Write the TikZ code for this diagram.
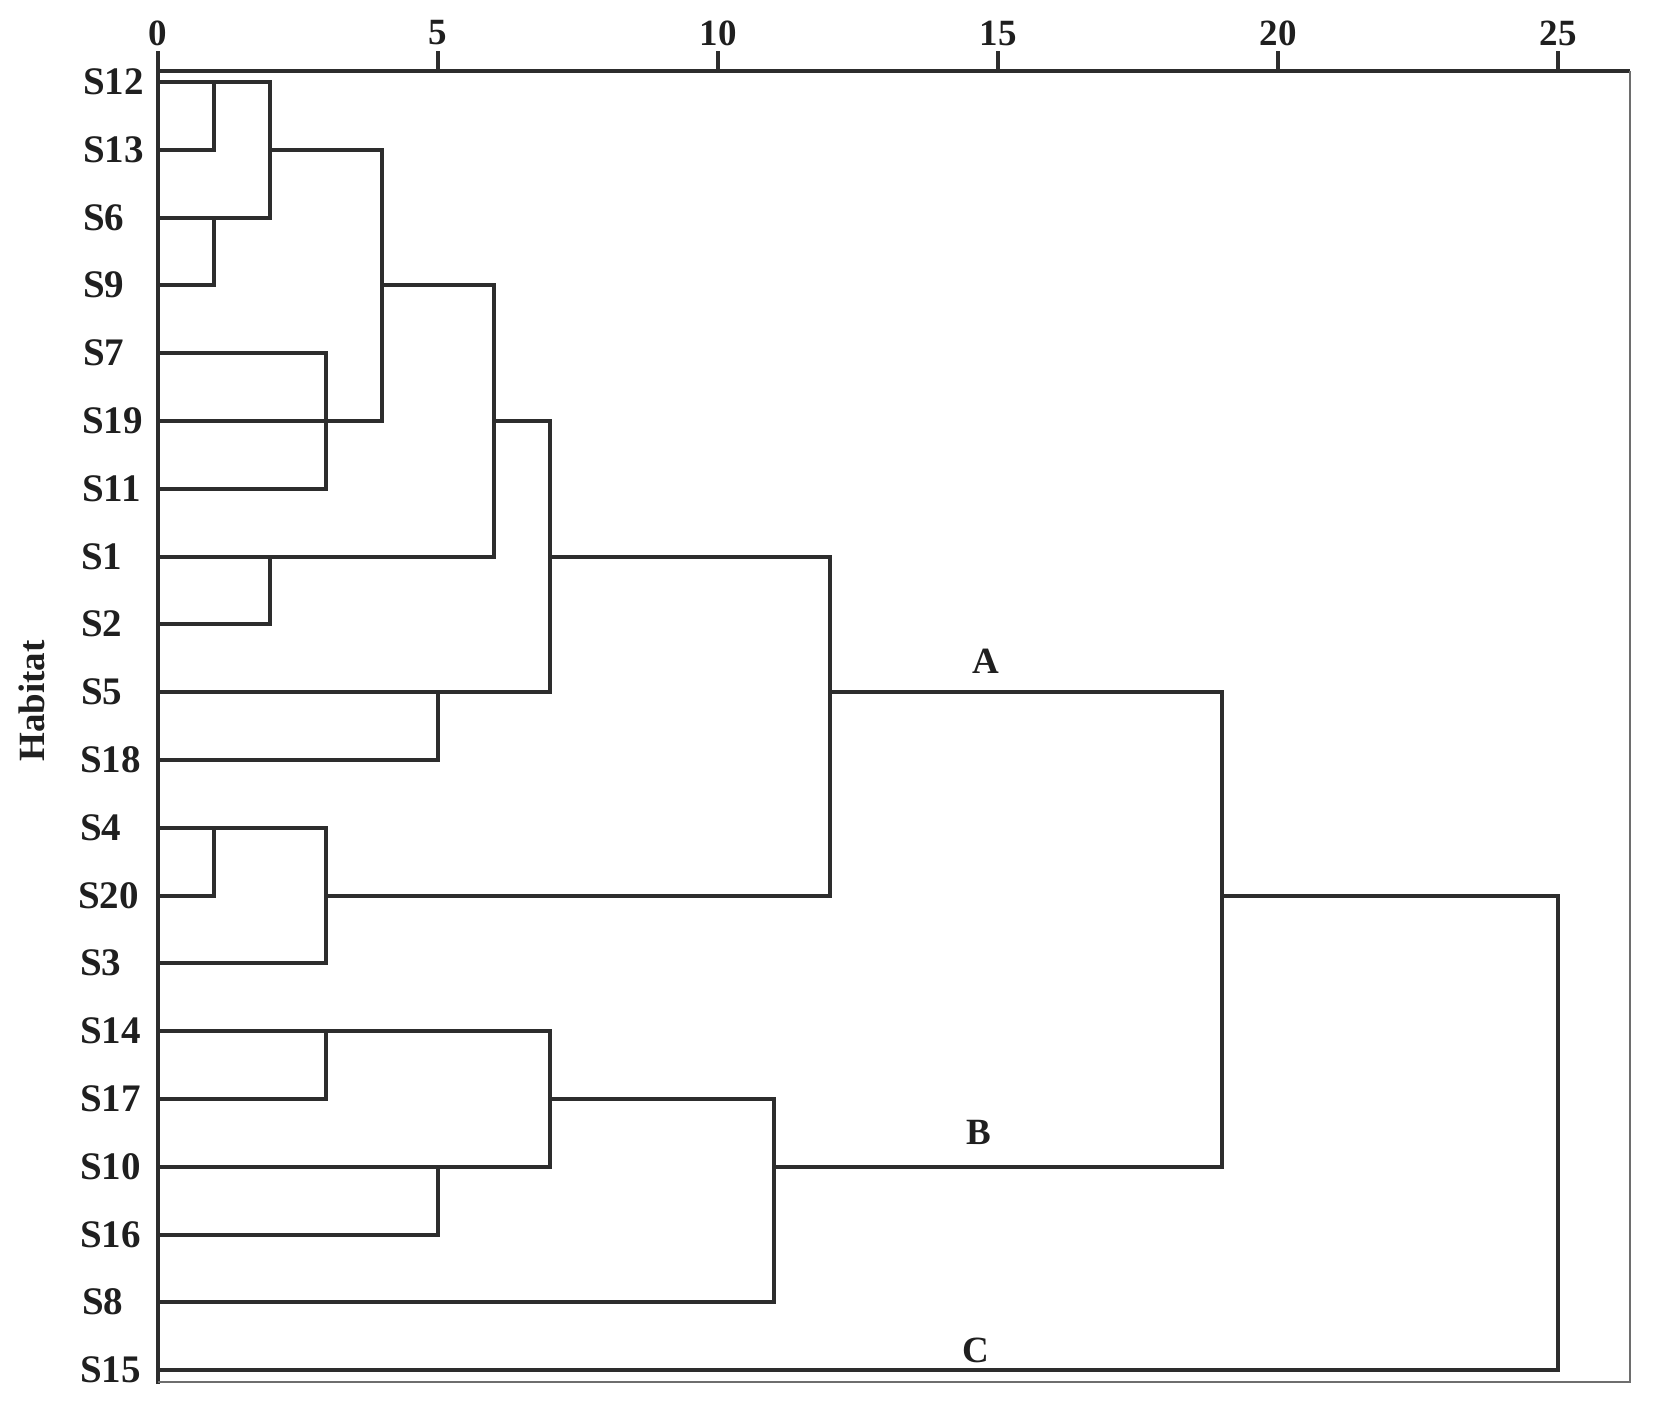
\documentclass[tikz,border=0pt]{standalone}
\usepackage{fontspec}
\setmainfont{Liberation Serif}
\definecolor{lnkgray}{RGB}{45,45,45}
\definecolor{frmgray}{RGB}{110,110,110}
\tikzset{every picture/.style={line width=1.5pt}}
\tikzset{lbl/.style={inner sep=0.75pt,font=\fontsize{18.5}{20}\selectfont\bfseries,text=black!88}}
\tikzset{leaf/.style={lbl,anchor=west,font=\fontsize{19.5}{21}\selectfont\bfseries}}
\tikzset{lnk/.style={draw=lnkgray,line width=1.8pt}}

\begin{document}
\begin{tikzpicture}[x=0.5pt,y=0.5pt,yscale=-1,xscale=1]
		\useasboundingbox (0,0) rectangle (1654,1404);
		
		%Axis frame
		\coordinate (o) at (158,71);
		\coordinate (tr) at (1630,71);
		\coordinate (br) at (1630,1382);
		\coordinate (bl) at (158,1382);
		\draw [lnk] (o) -- (tr) ;
		\draw [lnk] (o) -- ++(0,-20) ;
		\draw [lnk] (o) -- (158,1384) ;
		\draw [draw=frmgray,line width=1pt] (tr) -- (br) -- (bl) ;
		\foreach \t in {5,10,15,20,25}
			\draw [lnk] (158+56*\t,71) -- ++(0,-20) ;
		
		%Scale labels
		\draw (158,33) node (n0) [lbl] {0};
		\draw (438,33) node (n5) [lbl] {5};
		\draw (718,33) node (n10) [lbl] {10};
		\draw (998,33) node (n15) [lbl] {15};
		\draw (1278,33) node (n20) [lbl] {20};
		\draw (1558,33) node (n25) [lbl] {25};
		\draw (32,701) node (hab) [lbl,rotate=90] {Habitat};
		
		%Habitats
		\draw (80,82) node (s12) [leaf] {S12};
		\draw (80,150) node (s13) [leaf] {S13};
		\draw (80,218) node (s6) [leaf] {S6};
		\draw (80,285) node (s9) [leaf] {S9};
		\draw (80,353) node (s7) [leaf] {S7};
		\draw (79,421) node (s19) [leaf] {S19};
		\draw (79,489) node (s11) [leaf] {S11};
		\draw (78,557) node (s1) [leaf] {S1};
		\draw (78,624) node (s2) [leaf] {S2};
		\draw (78,692) node (s5) [leaf] {S5};
		\draw (77,760) node (s18) [leaf] {S18};
		\draw (77,828) node (s4) [leaf] {S4};
		\draw (75,896) node (s20) [leaf] {S20};
		\draw (77,963) node (s3) [leaf] {S3};
		\draw (77,1031) node (s14) [leaf] {S14};
		\draw (77,1099) node (s17) [leaf] {S17};
		\draw (77,1167) node (s10) [leaf] {S10};
		\draw (77,1235) node (s16) [leaf] {S16};
		\draw (79,1302) node (s8) [leaf] {S8};
		\draw (77,1370) node (s15) [leaf] {S15};
		
		%Merge points
		\coordinate (m1a) at (214,82);
		\coordinate (m1b) at (214,218);
		\coordinate (m2a) at (270,150);
		\coordinate (m3a) at (326,421);
		\coordinate (m4) at (382,285);
		\coordinate (m2b) at (270,557);
		\coordinate (m6) at (494,421);
		\coordinate (m5a) at (438,692);
		\coordinate (m7a) at (550,557);
		\coordinate (m1c) at (214,828);
		\coordinate (m3b) at (326,896);
		\coordinate (m12) at (830,692);
		\coordinate (m3c) at (326,1031);
		\coordinate (m5b) at (438,1167);
		\coordinate (m7b) at (550,1099);
		\coordinate (m11) at (774,1167);
		\coordinate (m19) at (1222,896);
		\coordinate (m25) at (1558,896);
		
		%Dendrogram
		\draw [lnk] (s12 -| o) -| (m1a) |- (s13 -| o) ;
		\draw [lnk] (s6 -| o) -| (m1b) |- (s9 -| o) ;
		\draw [lnk] (m1a) -| (m2a) |- (m1b) ;
		\draw [lnk] (s7 -| o) -| (m3a) |- (s11 -| o) ;
		\draw [lnk] (s19 -| o) -- (m3a) ;
		\draw [lnk] (m2a) -| (m4) |- (m3a) ;
		\draw [lnk] (s1 -| o) -| (m2b) |- (s2 -| o) ;
		\draw [lnk] (m4) -| (m6) |- (m2b) ;
		\draw [lnk] (s5 -| o) -| (m5a) |- (s18 -| o) ;
		\draw [lnk] (m6) -| (m7a) |- (m5a) ;
		\draw [lnk] (s4 -| o) -| (m1c) |- (s20 -| o) ;
		\draw [lnk] (m1c) -| (m3b) |- (s3 -| o) ;
		\draw [lnk] (m7a) -| (m12) |- (m3b) ;
		\draw [lnk] (s14 -| o) -| (m3c) |- (s17 -| o) ;
		\draw [lnk] (s10 -| o) -| (m5b) |- (s16 -| o) ;
		\draw [lnk] (m3c) -| (m7b) |- (m5b) ;
		\draw [lnk] (m7b) -| (m11) |- (s8 -| o) ;
		\draw [lnk] (m12) -| (m19) |- (m11) ;
		\draw [lnk] (m19) -| (m25) |- (s15 -| o) ;
		
		%Clusters
		\draw (986,661) node (ca) [lbl] {A};
		\draw (979,1132) node (cb) [lbl] {B};
		\draw (976,1350) node (cc) [lbl] {C};
		
	\end{tikzpicture}
\end{document}
